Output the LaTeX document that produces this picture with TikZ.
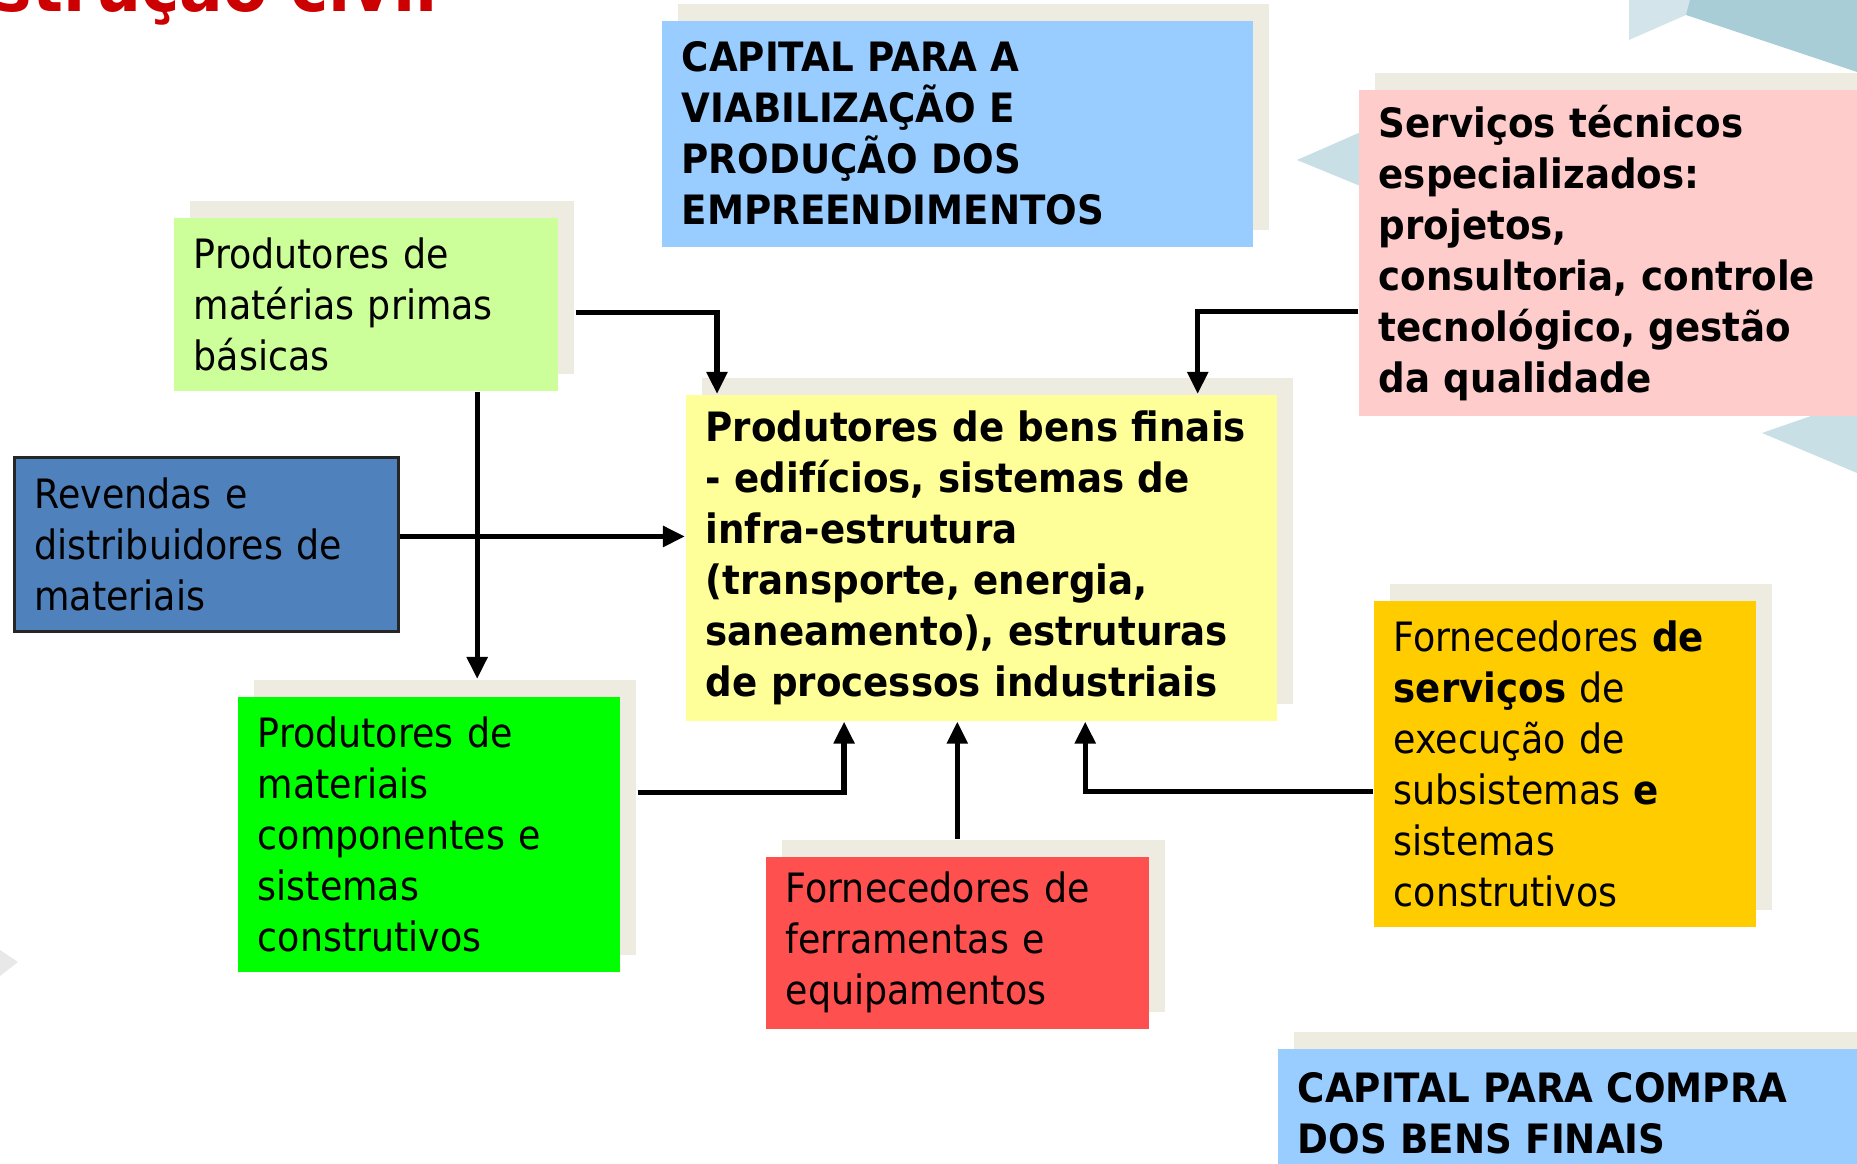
\documentclass[tikz,border=0pt]{standalone}
\usepackage{fontspec}
\setmainfont{DejaVu Sans}[FakeStretch=0.9, BoldFeatures={FakeStretch=0.92}]
\usetikzlibrary{arrows.meta, shadows}

\definecolor{capblue}{HTML}{99CCFF}
\definecolor{servpink}{HTML}{FFCCCC}
\definecolor{rawgreen}{HTML}{CCFF99}
\definecolor{resellblue}{HTML}{4F81BD}
\definecolor{finalyellow}{HTML}{FFFF99}
\definecolor{compgreen}{HTML}{00FF00}
\definecolor{toolred}{HTML}{FF5050}
\definecolor{execgold}{HTML}{FFCC00}
\definecolor{shbeige}{HTML}{EEECE1}
\definecolor{titlered}{HTML}{CC0000}
\definecolor{decoteal}{HTML}{A8CDD7}
\definecolor{decolight}{HTML}{D3E5EA}
\definecolor{decopale}{HTML}{C8DFE6}

\newcommand\boxfont{\fontsize{11.5pt}{14.5pt}\selectfont}

\tikzset{
	box/.style={
		anchor=north west,
		inner xsep=0.2cm,
		inner ysep=0pt,
		align=left,
		font=\boxfont
	},
	boldbox/.style={
		box,
		font=\boxfont\bfseries
	},
	beige shadow/.style={
		general shadow={
			fill=shbeige,
			shadow xshift=0.16cm,
			shadow yshift=0.17cm
		}
	},
	link/.style={
		line width=1.5pt,
		-{Triangle[length=0.22cm, width=0.2cm]}
	}
}

\begin{document}
\begin{tikzpicture}[x=0.01cm, y=-0.01cm]
	\useasboundingbox (0,0) rectangle (1857,1164);

	% background shapes
	\fill[decolight] (1629,0) -- (1700,0) -- (1686,15) -- (1629,40) -- cycle;
	\fill[decoteal] (1690,0) -- (1857,0) -- (1857,72) -- (1686,15) -- cycle;
	\fill[decopale] (1297,160) -- (1370,128) -- (1370,190) -- cycle;
	\fill[decopale] (1762,433) -- (1857,400) -- (1857,473) -- cycle;
	\fill[gray!18] (0,950) -- (18,962) -- (0,976) -- cycle;

	% title, cut by the top edge
	\begin{scope}
		\clip (0,0) rectangle (1857,1164);
		\node[
			anchor=base east,
			inner sep=0pt,
			text=titlered,
			font=\fontsize{20pt}{24pt}\selectfont\bfseries
		] (title) at (438,12) {Cadeia produtiva da construção civil};
	\end{scope}

	% boxes
	\node[
		boldbox,
		beige shadow,
		fill=capblue,
		text width=5.51cm,
		minimum height=2.26cm
	] (capA) at (661,20) {CAPITAL PARA A\\VIABILIZAÇÃO E\\PRODUÇÃO DOS\\EMPREENDIMENTOS};
	\node[
		boldbox,
		beige shadow,
		fill=servpink,
		text width=4.6cm,
		minimum height=3.26cm
	] (servicos) at (1358,89) {Serviços técnicos\\especializados:\\projetos,\\consultoria, controle\\tecnológico, gestão\\da qualidade};
	\node[
		box,
		beige shadow,
		fill=rawgreen,
		text width=3.44cm,
		minimum height=1.73cm
	] (materias) at (173,217) {Produtores de\\matérias primas\\básicas};
	\node[
		box,
		draw=black!85,
		line width=0.8pt,
		fill=resellblue,
		text width=3.44cm,
		minimum height=1.74cm
	] (revendas) at (13,456) {Revendas e\\distribuidores de\\materiais};
	\node[
		boldbox,
		beige shadow,
		fill=finalyellow,
		text width=5.51cm,
		minimum height=3.26cm
	] (bens) at (685,394) {Produtores de bens finais\\- edifícios, sistemas de\\infra-estrutura\\(transporte, energia,\\saneamento), estruturas\\de processos industriais};
	\node[
		box,
		beige shadow,
		fill=compgreen,
		text width=3.42cm,
		minimum height=2.75cm
	] (matcomp) at (237,696) {Produtores de\\materiais\\componentes e\\sistemas\\construtivos};
	\node[
		box,
		beige shadow,
		fill=toolred,
		text width=3.43cm,
		minimum height=1.72cm
	] (ferram) at (765,856) {Fornecedores de\\ferramentas e\\equipamentos};
	\node[
		box,
		beige shadow,
		fill=execgold,
		text width=3.42cm,
		minimum height=3.26cm
	] (fornserv) at (1373,600) {Fornecedores \textbf{de}\\\textbf{serviços} de\\execução de\\subsistemas \textbf{e}\\sistemas\\construtivos};
	\node[
		boldbox,
		beige shadow,
		fill=capblue,
		text width=5.7cm,
		minimum height=1.3cm
	] (capB) at (1277,1048) {CAPITAL PARA COMPRA\\DOS BENS FINAIS};

	% connectors
	\coordinate (matcomptop) at ([yshift=0.17cm]matcomp.north);
	\draw[link] ([xshift=0.17cm, yshift=-0.08cm]materias.east) -| ([xshift=0.32cm]bens.north west);
	\draw[link] ([yshift=-0.59cm]servicos.west) -| ([xshift=-0.8cm]bens.north east);
	\draw[link] ([xshift=3.04cm]materias.south west) -- ([xshift=3.04cm]materias.south west |- matcomptop);
	\draw[link] ([yshift=0.08cm]revendas.east) -- ([yshift=0.08cm]revendas.east -| bens.west);
	\draw[link] ([xshift=0.17cm, yshift=0.42cm]matcomp.east) -| ([xshift=1.59cm]bens.south west);
	\draw[link] ([yshift=0.17cm]ferram.north) -- (ferram.north |- bens.south);
	\draw[link] ([yshift=-0.28cm]fornserv.west) -| ([xshift=4cm]bens.south west);
\end{tikzpicture}
\end{document}
